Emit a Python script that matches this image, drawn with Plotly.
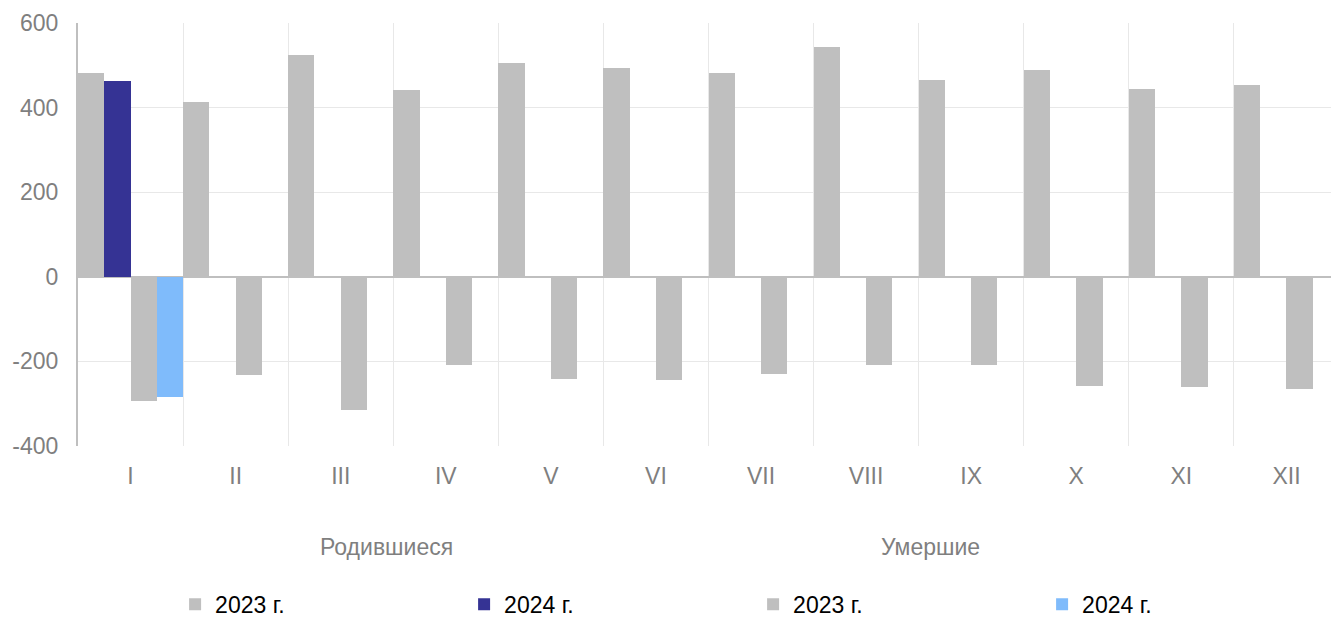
import plotly.graph_objects as go

months = ["I", "II", "III", "IV", "V", "VI", "VII", "VIII", "IX", "X", "XI", "XII"]
births_2023 = [482, 413, 524, 442, 506, 494, 482, 543, 465, 489, 444, 454]
births_2024 = [463, None, None, None, None, None, None, None, None, None, None, None]
deaths_2023 = [-293, -232, -314, -208, -241, -243, -229, -208, -208, -257, -260, -265]
deaths_2024 = [-283, None, None, None, None, None, None, None, None, None, None, None]
legend_labels = ["2023 г.", "2024 г.", "2023 г.", "2024 г."]
group_labels = ["Родившиеся", "Умершие"]
y_ticks = [-400, -200, 0, 200, 400, 600]
y_ticktext = ["-400", "-200", "0", "200", "400", "600"]

x_idx = list(range(len(months)))
colors = ["#bfbfbf", "#353394", "#bfbfbf", "#7fbbfb"]
series = [births_2023, births_2024, deaths_2023, deaths_2024]

fig = go.Figure()
for vals, name, col in zip(series, legend_labels, colors):
    fig.add_trace(go.Bar(x=x_idx, y=vals, name=name, marker=dict(color=col, line=dict(width=0))))

FONT = "Liberation Sans, Arial, sans-serif"
FS = 23
fig.update_layout(
    width=1331, height=611,
    margin=dict(l=70, r=0, t=15, b=173, autoexpand=False),
    plot_bgcolor="white", paper_bgcolor="white",
    barmode="group", bargap=0, bargroupgap=0,
    font=dict(family=FONT, size=FS, color="#7f7f7f"),
    showlegend=True,
    legend=dict(orientation="h", x=0.077, xanchor="left", yref="container", y=0.024, yanchor="middle",
                font=dict(color="#000000", size=FS), entrywidth=244, itemwidth=30, traceorder="normal"),
    xaxis=dict(range=[-0.5, 11.5], tickmode="array", tickvals=x_idx, ticktext=months,
               showgrid=False, zeroline=False, showline=False, ticks="", automargin=False,
               ticklabelstandoff=14,
               minor=dict(tickmode="array", tickvals=[i - 0.5 for i in range(len(months) + 1)],
                          showgrid=True, gridcolor="#e8e8e8", gridwidth=1, ticks="")),
    yaxis=dict(range=[-400, 600], tickmode="array", tickvals=y_ticks, ticktext=y_ticktext,
               showgrid=True, gridcolor="#e8e8e8", gridwidth=1, automargin=False,
               zeroline=True, zerolinecolor="#bfbfbf", zerolinewidth=2,
               showline=True, linecolor="#bfbfbf", linewidth=2, ticks="",
               ticklabelstandoff=13),
)

for label, xp in zip(group_labels, [0.245, 0.676]):
    fig.add_annotation(text=label, xref="paper", yref="paper", x=xp, y=-0.239,
                       xanchor="center", yanchor="middle",
                       showarrow=False, font=dict(family=FONT, size=FS, color="#7f7f7f"))

fig.write_html("out.html")
